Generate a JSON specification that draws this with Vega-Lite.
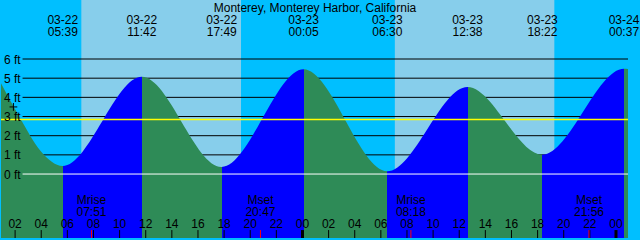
{
  "$schema": "https://vega.github.io/schema/vega-lite/v6.json",
  "width": 640,
  "height": 240,
  "autosize": {"type": "fit", "contains": "padding"},
  "padding": 0,
  "background": "#00BFFF",
  "config": {"view": {"stroke": null}, "text": {"font": "Liberation Sans", "fontSize": 12, "color": "black"}},
  "datasets": {
    "sky": [
      {"start": 0.92, "end": 7.07, "period": "night"},
      {"start": 7.07, "end": 19.3, "period": "day"},
      {"start": 19.3, "end": 31.07, "period": "night"},
      {"start": 31.07, "end": 43.3, "period": "day"},
      {"start": 43.3, "end": 48.92, "period": "night"}
    ],
    "levels": [
      {"ft": 0, "label": "0 ft"}, {"ft": 1, "label": "1 ft"}, {"ft": 2, "label": "2 ft"},
      {"ft": 3, "label": "3 ft"}, {"ft": 4, "label": "4 ft"}, {"ft": 5, "label": "5 ft"}, {"ft": 6, "label": "6 ft"}
    ],
    "tide": [
      {"h": 0.92, "ft": 4.73},
      {"h": 2.42, "ft": 2.87},
      {"h": 3.92, "ft": 1.23},
      {"h": 5.65, "ft": 0.42},
      {"h": 11.7, "ft": 5.08},
      {"h": 17.817, "ft": 0.37},
      {"h": 24.083, "ft": 5.46},
      {"h": 30.5, "ft": 0.14},
      {"h": 36.633, "ft": 4.54},
      {"h": 42.367, "ft": 1.01},
      {"h": 48.617, "ft": 5.49},
      {"h": 48.92, "ft": 5.48}
    ],
    "extremes": [
      {"h": 5.65, "date": "03-22", "time": "05:39"},
      {"h": 11.7, "date": "03-22", "time": "11:42"},
      {"h": 17.817, "date": "03-22", "time": "17:49"},
      {"h": 24.083, "date": "03-23", "time": "00:05"},
      {"h": 30.5, "date": "03-23", "time": "06:30"},
      {"h": 36.633, "date": "03-23", "time": "12:38"},
      {"h": 42.367, "date": "03-23", "time": "18:22"},
      {"h": 48.617, "date": "03-24", "time": "00:37"}
    ],
    "moon": [
      {"h": 7.85, "event": "Mrise", "time": "07:51"},
      {"h": 20.783, "event": "Mset", "time": "20:47"},
      {"h": 32.3, "event": "Mrise", "time": "08:18"},
      {"h": 45.933, "event": "Mset", "time": "21:56"}
    ],
    "hours": [
      {"h": 2, "label": "02"}, {"h": 4, "label": "04"}, {"h": 6, "label": "06"}, {"h": 8, "label": "08"},
      {"h": 10, "label": "10"}, {"h": 12, "label": "12"}, {"h": 14, "label": "14"}, {"h": 16, "label": "16"},
      {"h": 18, "label": "18"}, {"h": 20, "label": "20"}, {"h": 22, "label": "22"}, {"h": 24, "label": "00"},
      {"h": 26, "label": "02"}, {"h": 28, "label": "04"}, {"h": 30, "label": "06"}, {"h": 32, "label": "08"},
      {"h": 34, "label": "10"}, {"h": 36, "label": "12"}, {"h": 38, "label": "14"}, {"h": 40, "label": "16"},
      {"h": 42, "label": "18"}, {"h": 44, "label": "20"}, {"h": 46, "label": "22"}, {"h": 48, "label": "00"}
    ],
    "mean": [{"ft": 2.845}],
    "title": [{"name": "Monterey, Monterey Harbor, California"}],
    "now": [{"h": 1.87, "ft": 3.5}]
  },
  "layer": [
    {
      "data": {"name": "sky"},
      "mark": {"type": "rect"},
      "encoding": {
        "x": {"field": "start", "type": "quantitative", "scale": {"domain": [0.92, 48.92], "nice": false, "zero": false}, "axis": null},
        "x2": {"field": "end"},
        "color": {"field": "period", "type": "nominal", "scale": {"domain": ["night", "day"], "range": ["#00BFFF", "#87CEEB"]}, "legend": null}
      }
    },
    {
      "data": {"name": "levels"},
      "transform": [{"filter": "datum.ft > 0"}],
      "mark": {"type": "rule", "stroke": "black", "strokeWidth": 1},
      "encoding": {
        "x": {"datum": 2.57, "type": "quantitative", "axis": null},
        "x2": {"datum": 48.92},
        "y": {"field": "ft", "type": "quantitative", "scale": {"domain": [-3.3362, 9.0776], "nice": false, "zero": false}, "axis": null}
      }
    },
    {
      "data": {"name": "tide"},
      "mark": {
        "type": "area", "interpolate": "monotone", "clip": true, "opacity": 1,
        "fill": {
          "gradient": "linear", "x1": 0, "y1": 0, "x2": 1, "y2": 0,
          "stops": [
            {"offset": 0, "color": "#2E8B57"},
            {"offset": 0.09854, "color": "#2E8B57"},
            {"offset": 0.09854, "color": "#0000FF"},
            {"offset": 0.22458, "color": "#0000FF"},
            {"offset": 0.22458, "color": "#2E8B57"},
            {"offset": 0.35202, "color": "#2E8B57"},
            {"offset": 0.35202, "color": "#0000FF"},
            {"offset": 0.48256, "color": "#0000FF"},
            {"offset": 0.48256, "color": "#2E8B57"},
            {"offset": 0.61625, "color": "#2E8B57"},
            {"offset": 0.61625, "color": "#0000FF"},
            {"offset": 0.74402, "color": "#0000FF"},
            {"offset": 0.74402, "color": "#2E8B57"},
            {"offset": 0.86348, "color": "#2E8B57"},
            {"offset": 0.86348, "color": "#0000FF"},
            {"offset": 0.9941, "color": "#0000FF"},
            {"offset": 0.9941, "color": "#2E8B57"},
            {"offset": 1, "color": "#2E8B57"}
          ]
        }
      },
      "encoding": {
        "x": {"field": "h", "type": "quantitative", "axis": null},
        "y": {"field": "ft", "type": "quantitative", "axis": null},
        "y2": {"datum": -3.3362}
      }
    },
    {
      "data": {"name": "levels"},
      "transform": [{"filter": "datum.ft === 0"}],
      "mark": {"type": "rule", "stroke": "white", "strokeWidth": 1},
      "encoding": {
        "x": {"datum": 2.57, "type": "quantitative", "axis": null},
        "x2": {"datum": 48.92},
        "y": {"field": "ft", "type": "quantitative", "axis": null}
      }
    },
    {
      "data": {"name": "mean"},
      "mark": {"type": "rule", "stroke": "#FFFF00", "strokeWidth": 1.5},
      "encoding": {
        "y": {"field": "ft", "type": "quantitative", "axis": null}
      }
    },
    {
      "data": {"name": "levels"},
      "mark": {"type": "text", "align": "right", "baseline": "alphabetic", "dy": 4.5},
      "encoding": {
        "x": {"datum": 2.42, "type": "quantitative", "axis": null},
        "y": {"field": "ft", "type": "quantitative", "axis": null},
        "text": {"field": "label"}
      }
    },
    {
      "data": {"name": "title"},
      "mark": {"type": "text", "align": "center", "baseline": "alphabetic"},
      "encoding": {
        "x": {"datum": 24.96, "type": "quantitative", "axis": null},
        "y": {"datum": 8.457, "type": "quantitative", "axis": null},
        "text": {"field": "name"}
      }
    },
    {
      "data": {"name": "extremes"},
      "mark": {"type": "text", "align": "center", "baseline": "alphabetic"},
      "encoding": {
        "x": {"field": "h", "type": "quantitative", "axis": null},
        "y": {"datum": 7.821, "type": "quantitative", "axis": null},
        "text": {"field": "date"}
      }
    },
    {
      "data": {"name": "extremes"},
      "mark": {"type": "text", "align": "center", "baseline": "alphabetic"},
      "encoding": {
        "x": {"field": "h", "type": "quantitative", "axis": null},
        "y": {"datum": 7.215, "type": "quantitative", "axis": null},
        "text": {"field": "time"}
      }
    },
    {
      "data": {"name": "moon"},
      "mark": {"type": "text", "align": "center", "baseline": "alphabetic"},
      "encoding": {
        "x": {"field": "h", "type": "quantitative", "axis": null},
        "y": {"datum": -1.578, "type": "quantitative", "axis": null},
        "text": {"field": "event"}
      }
    },
    {
      "data": {"name": "moon"},
      "mark": {"type": "text", "align": "center", "baseline": "alphabetic"},
      "encoding": {
        "x": {"field": "h", "type": "quantitative", "axis": null},
        "y": {"datum": -2.183, "type": "quantitative", "axis": null},
        "text": {"field": "time"}
      }
    },
    {
      "data": {"name": "hours"},
      "mark": {"type": "text", "align": "center", "baseline": "alphabetic"},
      "encoding": {
        "x": {"field": "h", "type": "quantitative", "axis": null},
        "y": {"datum": -2.793, "type": "quantitative", "axis": null},
        "text": {"field": "label"}
      }
    },
    {
      "data": {"name": "hours"},
      "mark": {"type": "rule", "stroke": "black"},
      "encoding": {
        "x": {"field": "h", "type": "quantitative", "axis": null},
        "y": {"datum": -2.922, "type": "quantitative", "axis": null},
        "y2": {"datum": -3.3362},
        "strokeWidth": {"condition": {"test": "datum.h % 24 === 0", "value": 3}, "value": 1}
      }
    },
    {
      "data": {"name": "moon"},
      "mark": {"type": "rule", "stroke": "red", "strokeWidth": 1},
      "encoding": {
        "x": {"field": "h", "type": "quantitative", "axis": null},
        "y": {"datum": -2.922, "type": "quantitative", "axis": null},
        "y2": {"datum": -3.3362}
      }
    },
    {
      "data": {"name": "now"},
      "mark": {"type": "point", "shape": "M-1,0L1,0M0,-1L0,1", "filled": false, "stroke": "black", "strokeWidth": 1, "size": 60, "opacity": 1},
      "encoding": {
        "x": {"field": "h", "type": "quantitative", "axis": null},
        "y": {"field": "ft", "type": "quantitative", "axis": null}
      }
    }
  ]
}
